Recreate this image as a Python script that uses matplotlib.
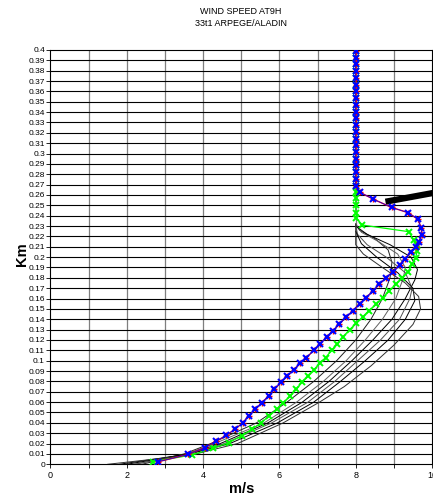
import matplotlib
matplotlib.use("Agg")
import matplotlib.pyplot as plt
from matplotlib.ticker import MultipleLocator, FuncFormatter

plt.rcParams['font.family'] = ['Liberation Sans', 'DejaVu Sans']

# upper part of both profiles sits on the same vertical at 8 m/s
top_km = [0.269, 0.2755, 0.282, 0.2885, 0.295, 0.3015, 0.308, 0.3145, 0.321, 0.3275,
          0.334, 0.3405, 0.347, 0.3535, 0.360, 0.3665, 0.373, 0.3795, 0.386, 0.3925, 0.399]
top_ms = [8.0, 8.0, 8.0, 8.0, 8.0, 8.0, 8.0, 8.0, 8.0, 8.0,
          8.0, 8.0, 8.0, 8.0, 8.0, 8.0, 8.0, 8.0, 8.0, 8.0, 8.0]

blue_km = [0.0025, 0.0095, 0.016, 0.022, 0.028, 0.034, 0.040, 0.047, 0.053, 0.0595,
           0.066, 0.0724, 0.079, 0.085, 0.091, 0.0975, 0.103, 0.110, 0.116, 0.123,
           0.129, 0.1355, 0.142, 0.148, 0.155, 0.161, 0.167, 0.174, 0.180, 0.186,
           0.192, 0.198, 0.205, 0.210, 0.215, 0.2214, 0.228, 0.2366, 0.243, 0.248,
           0.256, 0.2626] + top_km
blue_ms = [2.83, 3.60, 4.04, 4.33, 4.61, 4.84, 5.04, 5.20, 5.37, 5.54,
           5.72, 5.87, 6.04, 6.20, 6.37, 6.55, 6.71, 6.90, 7.06, 7.24,
           7.41, 7.57, 7.75, 7.92, 8.10, 8.27, 8.45, 8.62, 8.80, 8.97,
           9.15, 9.29, 9.44, 9.57, 9.65, 9.74, 9.72, 9.63, 9.37, 8.94,
           8.46, 8.11] + top_ms

green_km = [0.0025, 0.009, 0.0154, 0.021, 0.0276, 0.0338, 0.040, 0.047, 0.053, 0.0595,
            0.066, 0.0724, 0.079, 0.085, 0.091, 0.0975, 0.103, 0.110, 0.116, 0.123,
            0.130, 0.136, 0.142, 0.148, 0.1545, 0.161, 0.167, 0.174, 0.180, 0.186,
            0.193, 0.199, 0.206, 0.2117, 0.2166, 0.2246, 0.231, 0.2375, 0.243, 0.250,
            0.257, 0.2626] + top_km
green_ms = [2.68, 3.71, 4.27, 4.68, 5.02, 5.28, 5.52, 5.74, 5.93, 6.10,
            6.29, 6.44, 6.59, 6.75, 6.90, 7.06, 7.21, 7.37, 7.52, 7.67,
            7.84, 8.02, 8.18, 8.34, 8.54, 8.71, 8.87, 9.06, 9.22, 9.37,
            9.48, 9.57, 9.61, 9.60, 9.52, 9.39, 8.17, 8.02, 8.0, 8.0,
            8.0, 8.0] + top_ms

# thin reference profiles (x in m/s, y in km)
ref_profiles = [
    ([2.4, 3.5, 4.2, 5.4, 6.2, 6.9, 7.5, 8.0, 8.4, 8.7, 8.9, 8.95, 8.85, 8.5, 8.1, 8.0],
     [0.0, 0.01, 0.02, 0.04, 0.06, 0.08, 0.10, 0.12, 0.14, 0.16, 0.18, 0.195, 0.207, 0.218, 0.226, 0.232]),
    ([2.2, 3.55, 4.3, 5.6, 6.45, 7.15, 7.75, 8.25, 8.7, 9.05, 9.25, 9.3, 9.1, 8.6, 8.15, 8.0],
     [0.0, 0.01, 0.02, 0.04, 0.06, 0.08, 0.10, 0.12, 0.14, 0.16, 0.18, 0.19, 0.203, 0.215, 0.224, 0.232]),
    ([2.0, 3.6, 4.45, 5.7, 6.6, 7.3, 7.9, 8.45, 8.95, 9.3, 9.55, 9.62, 9.45, 8.9, 8.3, 8.0],
     [0.0, 0.01, 0.02, 0.04, 0.06, 0.08, 0.10, 0.12, 0.14, 0.16, 0.178, 0.188, 0.20, 0.212, 0.222, 0.23]),
    ([2.2, 3.65, 4.55, 5.8, 6.75, 7.45, 8.05, 8.65, 9.15, 9.42, 9.48, 9.3, 8.8, 8.3, 8.05, 8.0],
     [0.0, 0.01, 0.02, 0.04, 0.06, 0.08, 0.10, 0.12, 0.14, 0.16, 0.17, 0.185, 0.20, 0.212, 0.222, 0.23]),
    ([1.8, 3.65, 4.7, 5.95, 6.9, 7.6, 8.25, 8.85, 9.3, 9.55, 9.5, 9.1, 8.55, 8.15, 8.0],
     [0.0, 0.01, 0.02, 0.04, 0.06, 0.08, 0.10, 0.12, 0.14, 0.158, 0.17, 0.185, 0.20, 0.213, 0.225]),
    ([1.5, 3.7, 4.9, 6.1, 7.05, 7.7, 8.4, 9.0, 9.5, 9.7, 9.65, 9.3, 8.7, 8.2, 8.0, 8.0],
     [0.0, 0.009, 0.02, 0.04, 0.06, 0.075, 0.095, 0.115, 0.135, 0.15, 0.162, 0.175, 0.19, 0.203, 0.212, 0.232]),
]
ref_colors = ['#202020', '#606060', '#000000', '#505050', '#000000', '#303030']

# thick segment in the upper right corner
bar_ms = [8.78, 10.4]
bar_km = [0.2535, 0.2645]

fig = plt.figure(figsize=(4.33, 4.98), dpi=100)
ax = fig.add_axes([0.1166, 0.0677, 0.8811, 0.8319])

ax.set_xlim(0, 10)
ax.set_ylim(0, 0.4)
ax.xaxis.set_major_locator(MultipleLocator(1))
ax.yaxis.set_major_locator(MultipleLocator(0.01))
ax.xaxis.set_major_formatter(FuncFormatter(lambda v, p: '%d' % v if round(v) % 2 == 0 else ''))
ax.yaxis.set_major_formatter(FuncFormatter(lambda v, p: '%g' % round(v, 2)))
ax.tick_params(axis='y', labelsize=6, length=3, width=0.6, pad=1, colors='black')
ax.tick_params(axis='x', labelsize=6.5, length=3, width=0.6, pad=1.5, colors='black')

for x in range(1, 10):
    ax.axvline(x, color='#7f7f7f', lw=0.9, zorder=1)
for i in range(1, 40):
    ax.axhline(i * 0.01, color='black', lw=0.8, zorder=1)

for (xs, ys), c in zip(ref_profiles, ref_colors):
    ax.plot(xs, ys, color=c, lw=0.7, zorder=2)

ax.plot(bar_ms, bar_km, color='black', lw=4.5, solid_capstyle='butt', zorder=3)

ax.plot(green_ms, green_km, color='#00ff00', lw=0.9, marker='x', ms=5, mew=1.4, zorder=4)
ax.plot(blue_ms, blue_km, color='red', lw=1.0, marker='+', ms=5, mew=1.0, zorder=5)
ax.plot(blue_ms, blue_km, color='blue', lw=0.5, marker='x', ms=5, mew=1.5, zorder=6)

for s in ax.spines.values():
    s.set_linewidth(0.8)

ax.set_xlabel('m/s', fontsize=10.5, fontweight='bold', labelpad=2)
fig.text(22 / 433, 1 - 254 / 498, 'Km', rotation=90, fontsize=10.5, fontweight='bold',
         ha='center', va='center')

fig.text(241 / 433, 1 - 11 / 498, 'WIND SPEED AT9H', fontsize=6.5, ha='center', va='center')
fig.text(241 / 433, 1 - 23 / 498, '33t1 ARPEGE/ALADIN', fontsize=6.5, ha='center', va='center')

fig.savefig('out.png', dpi=100)
